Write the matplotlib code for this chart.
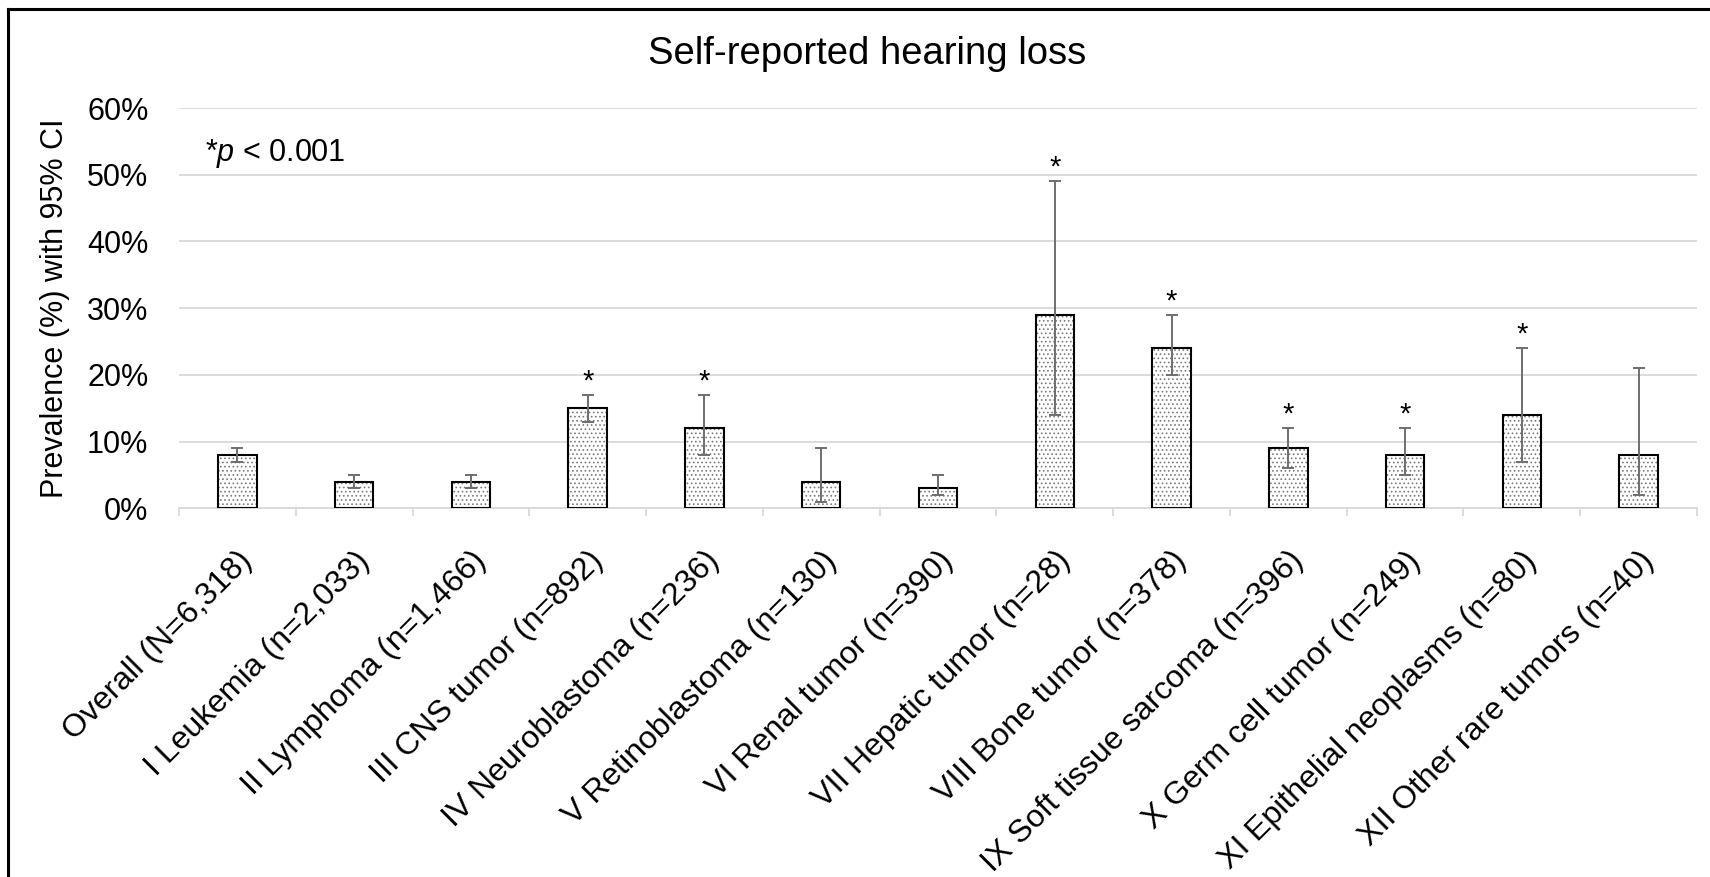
import matplotlib.pyplot as plt
import numpy as np
from matplotlib.lines import Line2D
from matplotlib.ticker import PercentFormatter

plt.rcParams['font.family'] = ['Liberation Sans', 'DejaVu Sans']
plt.rcParams['mathtext.fontset'] = 'custom'
plt.rcParams['mathtext.rm'] = 'Liberation Sans'
plt.rcParams['mathtext.it'] = 'Liberation Sans:italic'
plt.rcParams['hatch.linewidth'] = 0.7

categories = ['Overall (N=6,318)', 'I Leukemia (n=2,033)', 'II Lymphoma (n=1,466)',
              'III CNS tumor (n=892)', 'IV Neuroblastoma (n=236)', 'V Retinoblastoma (n=130)',
              'VI Renal tumor (n=390)', 'VII Hepatic tumor (n=28)', 'VIII Bone tumor (n=378)',
              'IX Soft tissue sarcoma (n=396)', 'X Germ cell tumor (n=249)',
              'XI Epithelial neoplasms (n=80)', 'XII Other rare tumors (n=40)']
prevalence = [8, 4, 4, 15, 12, 4, 3, 29, 24, 9, 8, 14, 8]
ci_low = [7, 3, 3, 13, 8, 1, 2, 14, 20, 6, 5, 7, 2]
ci_high = [9, 5, 5, 17, 17, 9, 5, 49, 29, 12, 12, 24, 21]
significant = [False, False, False, True, True, False, False, True, True, True, True, True, False]

W, H = 1710, 877
fig = plt.figure(figsize=(W / 100, H / 100), dpi=100)
ax = fig.add_axes([179 / W, 1 - 508.3 / H, (1697 - 179) / W, (508.3 - 108) / H])

x = np.arange(len(categories))
y = np.array(prevalence) / 100
lo = np.array(ci_low) / 100
hi = np.array(ci_high) / 100

# stippled fill, then black outline on top
ax.bar(x, y, width=0.33, color='white', edgecolor='#7a7a7a', hatch='....', linewidth=0, zorder=2)
ax.bar(x, y, width=0.33, fill=False, edgecolor='black', linewidth=1.5, zorder=3)
ax.errorbar(x, y, yerr=[y - lo, hi - y], fmt='none', ecolor='#6e6e6e',
            elinewidth=1.4, capsize=4, capthick=1.4, zorder=4)

for i in x:
    if significant[i]:
        ax.annotate('*', (i, hi[i]), xytext=(0, 4), textcoords='offset points',
                    ha='center', va='baseline', fontsize=21)

ax.set_xlim(-0.5, len(categories) - 0.5)
ax.set_ylim(0, 0.6)
ax.set_yticks(np.arange(0, 0.61, 0.1))
ax.yaxis.set_major_formatter(PercentFormatter(1.0, decimals=0))
ax.grid(axis='y', color='#d9d9d9', linewidth=1.3)
ax.set_axisbelow(True)

for s in ['top', 'right', 'left']:
    ax.spines[s].set_visible(False)
ax.spines['bottom'].set_color('#d9d9d9')
ax.spines['bottom'].set_linewidth(1.3)

ax.set_xticks(x)
ax.set_xticks(np.arange(-0.5, len(categories), 1), minor=True)
ax.set_xticklabels(categories, rotation=45, ha='right', rotation_mode='anchor', fontsize=23)
ax.tick_params(axis='x', which='major', length=0, pad=27)
ax.tick_params(axis='x', which='minor', length=6, color='#d9d9d9', width=1.3)
ax.tick_params(axis='y', length=0, pad=22, labelsize=22)

ax.set_ylabel('Prevalence (%) with 95% CI', fontsize=22, labelpad=12)
ax.text(0.017, 0.8676, '*$p$ < 0.001', transform=ax.transAxes, fontsize=22, va='baseline')

fig.text(867 / W, 1 - 64 / H, 'Self-reported hearing loss', ha='center', va='baseline', fontsize=27.5)

# outer frame (only top and left edges visible)
fig.add_artist(Line2D([8 / W, 8 / W], [0, 1 - 9 / H], color='black', linewidth=2.2, transform=fig.transFigure))
fig.add_artist(Line2D([8 / W, 1], [1 - 9 / H, 1 - 9 / H], color='black', linewidth=2.2, transform=fig.transFigure))

fig.savefig('out.png', dpi=100)
